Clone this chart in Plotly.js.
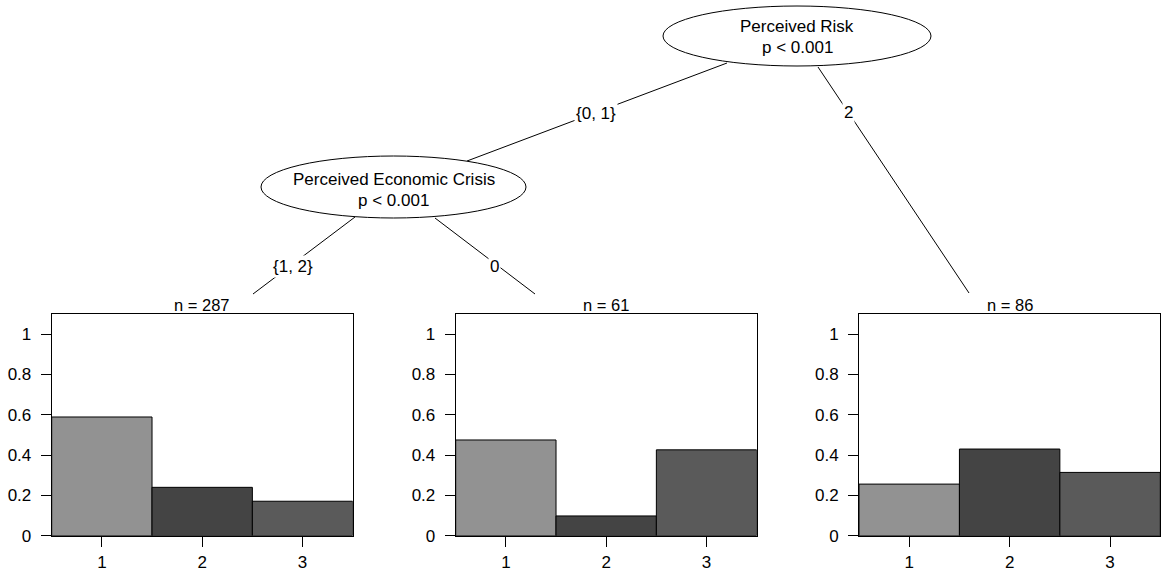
<!DOCTYPE html>
<html>
<head>
<meta charset="utf-8">
<script src="https://cdn.plot.ly/plotly-3.0.1.min.js"></script>
<style>html,body{margin:0;padding:0;background:#fff;}#chart{width:1163px;height:573px;}</style>
</head>
<body>
<div id="chart"></div>
<script>
// ---- data ----
var categories = ['1', '2', '3'];
var node3Values = [0.589, 0.240, 0.171];   // n = 287
var node4Values = [0.475, 0.098, 0.426];   // n = 61
var node5Values = [0.256, 0.430, 0.314];   // n = 86
var nodeLabels = ['n = 287', 'n = 61', 'n = 86'];
var yTickVals = [0, 0.2, 0.4, 0.6, 0.8, 1];
var yTickText = ['0', '0.2', '0.4', '0.6', '0.8', '1'];
var innerNodeNames = ['Perceived Risk', 'Perceived Economic Crisis'];
var innerNodeP = ['p < 0.001', 'p < 0.001'];
var edgeLabels = ['{0, 1}', '2', '{1, 2}', '0'];
var barColors = ['#929292', '#444444', '#5a5a5a'];

// ---- layout geometry (pixels) ----
var W = 1163, H = 573;
function px(x) { return x / W; }
function py(y) { return 1 - y / H; }
var panelX = [[51.7, 352.7], [455.7, 756.7], [859, 1160.3]];
var panelY = [314, 535.7];
var FONT = 'Liberation Sans, Arial, sans-serif';

var series = [node3Values, node4Values, node5Values];
var traces = [];
var layout = {
  width: W, height: H,
  margin: {l: 0, r: 0, t: 0, b: 0},
  paper_bgcolor: '#fff', plot_bgcolor: '#fff',
  showlegend: false,
  font: {family: FONT, size: 17, color: '#000'},
  shapes: [], annotations: []
};

series.forEach(function (vals, i) {
  var s = i === 0 ? '' : String(i + 1);
  traces.push({
    type: 'bar', x: [1, 2, 3], y: vals, width: 1,
    xaxis: 'x' + s, yaxis: 'y' + s,
    marker: {color: barColors, line: {color: '#000', width: 1}},
    hoverinfo: 'skip'
  });
  layout['xaxis' + s] = {
    domain: [px(panelX[i][0]), px(panelX[i][1])],
    anchor: 'y' + s, range: [0.5, 3.5],
    tickvals: [1, 2, 3], ticktext: categories,
    ticks: 'outside', ticklen: 10, tickwidth: 1, tickcolor: '#000',
    showline: true, mirror: true, linecolor: '#000', linewidth: 1,
    showgrid: false, zeroline: false, fixedrange: true,
    tickfont: {family: FONT, size: 17, color: '#000'},
    ticklabelstandoff: 1
  };
  layout['yaxis' + s] = {
    domain: [py(panelY[1]), py(panelY[0])],
    anchor: 'x' + s, range: [0, 1.1],
    tickvals: yTickVals, ticktext: yTickText,
    ticks: 'outside', ticklen: 10, tickwidth: 1, tickcolor: '#000',
    showline: true, mirror: true, linecolor: '#000', linewidth: 1,
    showgrid: false, zeroline: false, fixedrange: true,
    tickfont: {family: FONT, size: 17, color: '#000'},
    ticklabelstandoff: 6
  };
  layout.annotations.push({
    xref: 'paper', yref: 'paper',
    x: px((panelX[i][0] + panelX[i][1]) / 2), y: py(305),
    xanchor: 'center', yanchor: 'middle', showarrow: false,
    text: nodeLabels[i], font: {family: FONT, size: 16.5, color: '#000'}
  });
});

// ---- tree structure ----
var ellipses = [
  {x0: 663, x1: 931, y0: 6, y1: 66, cx: 797, ty: [27, 48]},
  {x0: 261, x1: 526, y0: 156, y1: 218, cx: 393.5, ty: [179, 200]}
];
ellipses.forEach(function (e, i) {
  layout.shapes.push({
    type: 'circle', xref: 'paper', yref: 'paper',
    x0: px(e.x0), x1: px(e.x1), y0: py(e.y1), y1: py(e.y0),
    line: {color: '#000', width: 1}, fillcolor: '#fff', layer: 'above'
  });
  [innerNodeNames[i], innerNodeP[i]].forEach(function (t, k) {
    layout.annotations.push({
      xref: 'paper', yref: 'paper', x: px(e.cx), y: py(e.ty[k]),
      xanchor: 'center', yanchor: 'middle', showarrow: false,
      text: t, font: {family: FONT, size: 17, color: '#000'}
    });
  });
});

var edges = [
  {a: [727, 63], b: [467, 161], l: [596, 113]},
  {a: [818, 67], b: [969, 293], l: [848, 112]},
  {a: [355, 217], b: [253, 294], l: [293, 266]},
  {a: [435, 218], b: [535, 294], l: [494, 266]}
];
edges.forEach(function (e, i) {
  layout.shapes.push({
    type: 'line', xref: 'paper', yref: 'paper',
    x0: px(e.a[0]), y0: py(e.a[1]), x1: px(e.b[0]), y1: py(e.b[1]),
    line: {color: '#000', width: 1}, layer: 'above'
  });
  layout.annotations.push({
    xref: 'paper', yref: 'paper', x: px(e.l[0]), y: py(e.l[1]),
    xanchor: 'center', yanchor: 'middle', showarrow: false,
    text: edgeLabels[i], bgcolor: '#fff', borderpad: 1,
    font: {family: FONT, size: 17, color: '#000'}
  });
});

Plotly.newPlot('chart', traces, layout, {displayModeBar: false, staticPlot: true});
</script>
</body>
</html>
